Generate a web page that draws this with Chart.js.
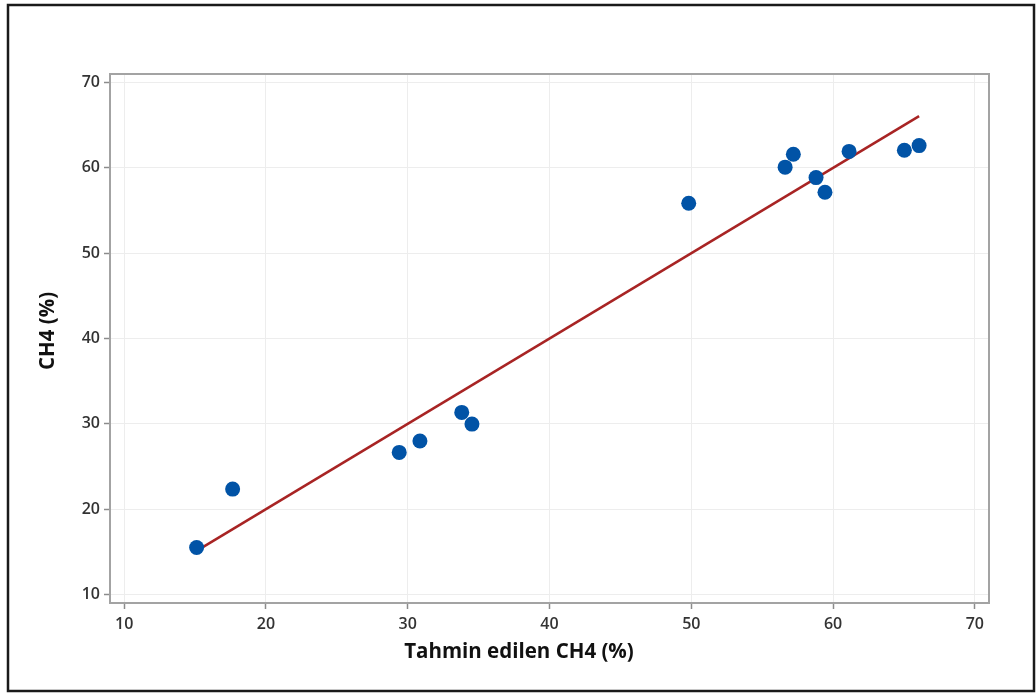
<!DOCTYPE html>
<html>
<head>
<meta charset="utf-8">
<script src="https://cdn.jsdelivr.net/npm/chart.js@4/dist/chart.umd.min.js"></script>
<style>
  html, body { margin: 0; padding: 0; background: #fff; }
  #wrap { width: 1036px; height: 693px; position: relative; }
</style>
</head>
<body>
<div id="wrap"><canvas id="c" width="1036" height="693"></canvas></div>
<script>
// Predicted vs. measured methane content
const predictedCH4 = [15.11, 17.65, 29.40, 30.86, 33.81, 34.53, 49.82, 56.62, 57.20, 58.80, 59.43, 61.13, 65.03, 66.07];
const measuredCH4  = [15.51, 22.35, 26.65, 27.98, 31.34, 29.97, 55.85, 60.08, 61.60, 58.86, 57.14, 61.93, 62.07, 62.61];

// Fitted line endpoints
const fitX = [15.11, 66.07];
const fitY = [15.11, 66.07];

const tickValues = [10, 20, 30, 40, 50, 60, 70];
const axisMin = 9;
const axisMax = 71;

const xTitle = 'Tahmin edilen CH4 (%)';
const yTitle = 'CH4 (%)';

const scatterPoints = predictedCH4.map((x, i) => ({ x: x, y: measuredCH4[i] }));
const fitPoints = fitX.map((x, i) => ({ x: x, y: fitY[i] }));

const tickFont = { family: "'Open Sans', 'DejaVu Sans', sans-serif", size: 16, weight: '600' };

const frameAndTitles = {
  id: 'frameAndTitles',
  beforeDraw(chart) {
    const ctx = chart.ctx;
    ctx.save();
    ctx.fillStyle = '#ffffff';
    ctx.fillRect(0, 0, chart.width, chart.height);
    ctx.restore();
  },
  afterDatasetsDraw(chart) {
    const ctx = chart.ctx;
    const a = chart.chartArea;
    ctx.save();
    // plot box
    ctx.strokeStyle = '#a3a3a3';
    ctx.lineWidth = 2;
    ctx.strokeRect(a.left, a.top, a.right - a.left, a.bottom - a.top);
    ctx.restore();
  },
  afterDraw(chart) {
    const ctx = chart.ctx;
    ctx.save();
    // outer frame
    ctx.strokeStyle = '#1a1a1a';
    ctx.lineWidth = 2.5;
    ctx.strokeRect(8, 5, 1026, 686);

    // axis titles
    ctx.fillStyle = '#111111';
    ctx.font = "bold 20.5px 'Open Sans', Lato, sans-serif";
    ctx.textAlign = 'center';
    ctx.textBaseline = 'middle';
    ctx.fillText(xTitle, 519, 652);
    ctx.translate(48, 331);
    ctx.rotate(-Math.PI / 2);
    ctx.fillText(yTitle, 0, 0);
    ctx.restore();
  }
};

function fixedTicks(scale) {
  scale.ticks = tickValues.map(v => ({ value: v }));
}

new Chart(document.getElementById('c'), {
  type: 'scatter',
  data: {
    datasets: [
      {
        label: 'CH4',
        data: scatterPoints,
        backgroundColor: '#0153a6',
        borderWidth: 0,
        pointRadius: 7.5,
        pointHoverRadius: 7.5
      },
      {
        type: 'line',
        label: 'Fit',
        data: fitPoints,
        borderColor: '#a82424',
        borderWidth: 2.5,
        pointRadius: 0,
        fill: false,
        tension: 0
      }
    ]
  },
  options: {
    responsive: false,
    animation: false,
    devicePixelRatio: 1,
    layout: { padding: { left: 0, top: 74, right: 47, bottom: 0 } },
    plugins: {
      legend: { display: false },
      tooltip: { enabled: false }
    },
    scales: {
      x: {
        type: 'linear',
        min: axisMin,
        max: axisMax,
        afterBuildTicks: fixedTicks,
        afterFit(scale) { scale.height = 90; },
        border: { display: false },
        grid: { color: '#ededed', lineWidth: 1, tickColor: '#8c8c8c', tickLength: 6, tickWidth: 1.5 },
        ticks: { font: tickFont, color: '#333333', padding: 6, maxRotation: 0 }
      },
      y: {
        type: 'linear',
        min: axisMin,
        max: axisMax,
        afterBuildTicks: fixedTicks,
        afterFit(scale) { scale.width = 110; },
        border: { display: false },
        grid: { color: '#ededed', lineWidth: 1, tickColor: '#8c8c8c', tickLength: 6, tickWidth: 1.5 },
        ticks: { font: tickFont, color: '#333333', padding: 4 }
      }
    }
  },
  plugins: [frameAndTitles]
});
</script>
</body>
</html>
